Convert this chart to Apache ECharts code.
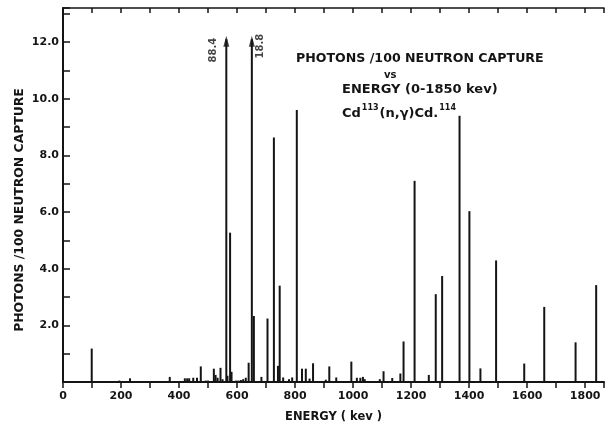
<!DOCTYPE html>
<html>
<head>
<meta charset="utf-8">
<script src="https://cdn.jsdelivr.net/npm/echarts@6/dist/echarts.min.js"></script>
<style>html,body{margin:0;padding:0;background:#fff}#c{width:607px;height:428px}</style>
</head>
<body>
<div id="c"></div>
<script>
// Gamma line energies (keV) and intensities (photons / 100 neutron captures)
const energies = [99, 194, 231, 368, 420, 428, 435, 449, 462, 475, 492, 500, 520, 526, 533, 543, 550,
  567, 576, 581, 596, 604, 613, 621, 630, 640, 658, 684, 705, 727, 741, 747, 759, 779, 790, 806,
  824, 837, 850, 862, 906, 918, 942, 994, 1013, 1025, 1034, 1040, 1092, 1105, 1135, 1163, 1174,
  1212, 1261, 1285, 1307, 1367, 1401, 1439, 1493, 1590, 1659, 1767, 1838];
const intensities = [1.18, 0.05, 0.13, 0.18, 0.13, 0.13, 0.13, 0.15, 0.15, 0.55, 0.05, 0.05, 0.47, 0.25, 0.15, 0.5, 0.1,
  0.22, 5.27, 0.36, 0.05, 0.05, 0.07, 0.1, 0.15, 0.68, 2.33, 0.18, 2.24, 8.63, 0.57, 3.4, 0.16, 0.1, 0.16, 9.6,
  0.47, 0.47, 0.12, 0.66, 0.08, 0.55, 0.16, 0.72, 0.15, 0.15, 0.18, 0.1, 0.1, 0.38, 0.14, 0.3, 1.43,
  7.1, 0.25, 3.1, 3.74, 9.4, 6.03, 0.48, 4.29, 0.65, 2.65, 1.4, 3.42];
// Off-scale lines, drawn up to the arrow tip, with their true values as labels
const arrowEnergies = [563, 651];
const arrowTops = [12.1, 12.1];
const arrowLabels = ['88.4', '18.8'];
// Axis ranges / ticks
const xMin = 0, xMax = 1865, xTickStep = 100, xLabelStep = 200;
const yMin = 0, yMax = 13.2, yTickStep = 1, yLabelStep = 2;

const ink = '#141414';
const font = 'DejaVu Sans';
// label offsets (text-local frame, text rotated 90deg)
const labelOffsets = [[-9, -13], [-5, 9]];

const lineData = energies.map((e, i) => [e, intensities[i]])
  .concat(arrowEnergies.map((e, i) => [e, arrowTops[i]]));

const chart = echarts.init(document.getElementById('c'), null, {renderer: 'canvas'});
chart.setOption({
  backgroundColor: '#ffffff',
  animation: false,
  grid: {left: 63, right: 2, top: 8, bottom: 40, containLabel: false},
  xAxis: [{
    type: 'value', min: xMin, max: xMax, interval: xTickStep, position: 'bottom',
    name: 'ENERGY ( kev )', nameLocation: 'middle', nameGap: 29,
    nameTextStyle: {fontFamily: font, fontWeight: 'bold', fontSize: 11.5, color: ink},
    axisLine: {show: true, lineStyle: {color: ink, width: 2}},
    axisTick: {show: true, inside: false, length: 6, lineStyle: {color: ink, width: 1.5}},
    axisLabel: {margin: 9, fontFamily: font, fontWeight: 'bold', fontSize: 11, color: ink,
      formatter: v => (v % xLabelStep === 0 ? String(v) : '')},
    splitLine: {show: false}
  }, {
    type: 'value', min: xMin, max: xMax, interval: xTickStep, position: 'top',
    axisLine: {show: true, lineStyle: {color: ink, width: 1.5}},
    axisTick: {show: true, inside: true, length: 5, lineStyle: {color: ink, width: 1.5}},
    axisLabel: {show: false}, splitLine: {show: false}
  }],
  yAxis: {
    type: 'value', min: yMin, max: yMax, interval: yTickStep,
    axisLine: {show: true, lineStyle: {color: ink, width: 2}},
    axisTick: {show: true, inside: true, length: 7, lineStyle: {color: ink, width: 1.5}},
    axisLabel: {margin: 4, fontFamily: font, fontWeight: 'bold', fontSize: 11, color: ink,
      formatter: v => (v > 0 && Math.abs(v % yLabelStep) < 1e-9 ? v.toFixed(1) : '')},
    splitLine: {show: false}
  },
  series: [{
    type: 'bar', xAxisIndex: 0, data: lineData, barWidth: 2,
    itemStyle: {color: ink}, silent: true
  }, {
    type: 'scatter', xAxisIndex: 0,
    data: arrowEnergies.map((e, i) => ({
      value: [e, arrowTops[i]],
      label: {offset: labelOffsets[i]}
    })),
    symbol: 'triangle', symbolSize: [6, 11], symbolOffset: [0, 2],
    itemStyle: {color: ink},
    label: {
      show: true, position: 'inside', rotate: 90, align: 'center', verticalAlign: 'middle',
      fontFamily: font, fontWeight: 'bold', fontSize: 10, color: ink,
      formatter: p => arrowLabels[p.dataIndex]
    }
  }],
  graphic: [
    {type: 'text', left: 296, top: 52, style: {text: 'PHOTONS /100 NEUTRON CAPTURE', font: 'bold 12.6px "DejaVu Sans"', fill: ink}},
    {type: 'text', left: 384, top: 70, style: {text: 'vs', font: 'bold 10px "DejaVu Sans"', fill: ink}},
    {type: 'text', left: 342, top: 83, style: {text: 'ENERGY (0-1850 kev)', font: 'bold 13px "DejaVu Sans"', fill: ink}},
    {type: 'text', left: 342, top: 104, style: {
      text: 'Cd{sup|113}(n,γ)Cd.{sup|114}', font: 'bold 13px "DejaVu Sans"', fill: ink,
      rich: {sup: {fontSize: 8, fontWeight: 'bold', fontFamily: font, fill: ink, verticalAlign: 'top', padding: [0, 1, 12, 1]}}
    }},
    {type: 'text', x: 20, y: 210, rotation: Math.PI / 2, style: {
      text: 'PHOTONS /100 NEUTRON CAPTURE', font: 'bold 12.4px "DejaVu Sans"', fill: ink,
      align: 'center', verticalAlign: 'middle'
    }}
  ]
});
</script>
</body>
</html>
